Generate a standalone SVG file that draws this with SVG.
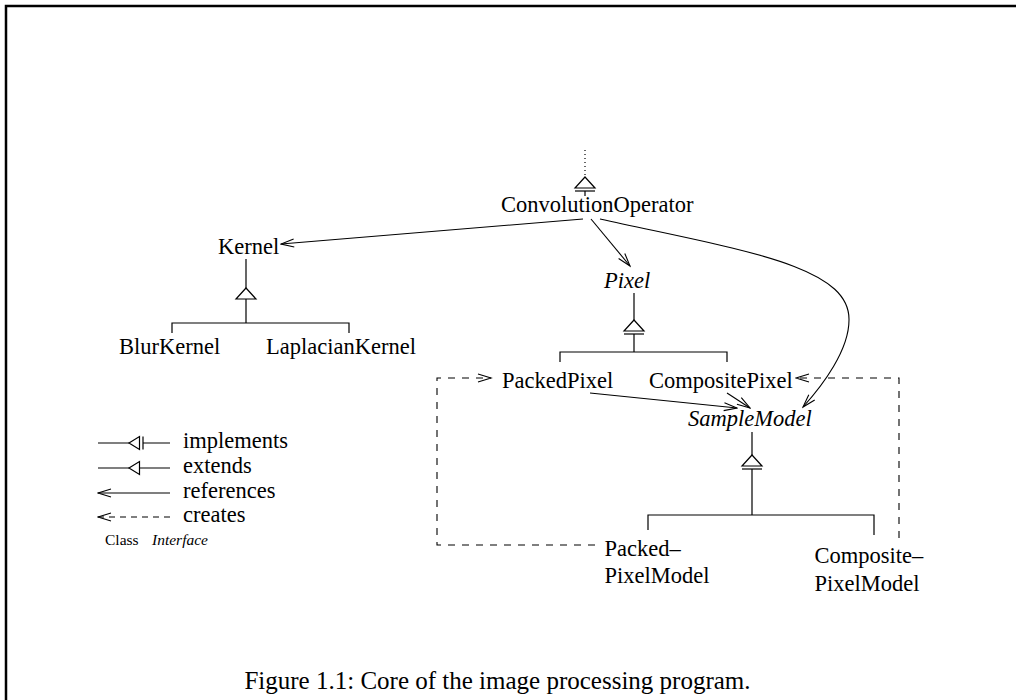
<svg xmlns="http://www.w3.org/2000/svg" width="1016" height="700" viewBox="0 0 1016 700">
<style>
text { font-family: "Liberation Serif", "Times New Roman", serif; font-size: 22.5px; fill: #000; }
.it { font-style: italic; }
.small { font-size: 15.5px; }
.cap { font-size: 25px; }
.ln { stroke: #000; stroke-width: 1.2; fill: none; }
.ref { stroke: #000; stroke-width: 1.1; fill: none; marker-end: url(#open); }
.cr { stroke: #000; stroke-width: 1.1; fill: none; stroke-dasharray: 7 7; marker-end: url(#open); }
.dot { stroke: #000; stroke-width: 1.2; stroke-dasharray: 1 3; }
.frame { stroke: #000; stroke-width: 2.5; fill: none; }
.tri { fill: #fff; stroke: #000; stroke-width: 1.2; }
</style>
<defs>
<marker id="open" markerUnits="userSpaceOnUse" markerWidth="16" markerHeight="12" viewBox="-1 -6 15 12" refX="13" refY="0" orient="auto">
<path d="M0,-4 L13,0 L0,4" fill="none" stroke="#000" stroke-width="1.1"/>
</marker>
<path id="tri" class="tri" d="M0,0 L10,11 L-10,11 Z"/>
<g id="impl"><use href="#tri"/><line x1="-10" y1="14" x2="10" y2="14" stroke="#000" stroke-width="1.2"/></g>
</defs>

<path class="frame" d="M6,700 V6 H1016"/>

<g id="connectors">
  <!-- ConvolutionOperator super (implements) -->
  <line class="dot" x1="585" y1="150" x2="585" y2="176"/>
  <use href="#impl" x="585" y="177"/>
  <line class="ln" x1="585" y1="191" x2="585" y2="196"/>
  <!-- Kernel extends tree -->
  <line class="ln" x1="246" y1="259" x2="246" y2="288"/>
  <use href="#tri" x="246" y="288"/>
  <path class="ln" d="M246,299 V323 M172,333 V323 H349 V333"/>
  <!-- Pixel implements tree -->
  <line class="ln" x1="634" y1="293" x2="634" y2="320"/>
  <use href="#impl" x="634" y="320"/>
  <path class="ln" d="M634,334 V352 M560,362 V352 H727 V362"/>
  <!-- SampleModel implements tree -->
  <line class="ln" x1="752" y1="432" x2="752" y2="455"/>
  <use href="#impl" x="752" y="455"/>
  <path class="ln" d="M752,469 V515 M648,530 V515 H874 V535"/>
  <!-- references -->
  <path class="ref" d="M583,219 L281,244"/>
  <path class="ref" d="M591,219 L630,266"/>
  <path class="ref" d="M600,219 C740,250 850,265 849,320 C849,350 823,385 803,407"/>
  <path class="ref" d="M590,393 L737,408"/>
  <path class="ref" d="M727,393 L750,408"/>
  <!-- creates -->
  <path class="cr" d="M595,545 H437 V378 H491"/>
  <path class="cr" d="M899,538 V378 H796"/>
</g>

<g id="n-convop"><text x="501" y="212">ConvolutionOperator</text></g>
<g id="n-kernel"><text x="218" y="254">Kernel</text></g>
<g id="n-blurkernel"><text x="119" y="354">BlurKernel</text></g>
<g id="n-laplaciankernel"><text x="266" y="354">LaplacianKernel</text></g>
<g id="n-pixel"><text class="it" x="604" y="288">Pixel</text></g>
<g id="n-packedpixel"><text x="502" y="388">PackedPixel</text></g>
<g id="n-compositepixel"><text x="649" y="388">CompositePixel</text></g>
<g id="n-samplemodel"><text class="it" x="688" y="426">SampleModel</text></g>
<g id="n-packedpixelmodel"><text x="604.5" y="556">Packed–</text><text x="604.5" y="583">PixelModel</text></g>
<g id="n-compositepixelmodel"><text x="814.5" y="563">Composite–</text><text x="814.5" y="591">PixelModel</text></g>

<g id="legend">
  <path class="ln" d="M98,443 H129 M143,443 H170 M143,436.5 V449.5"/>
  <polygon class="tri" points="129,443 139.5,436.5 139.5,449.5"/>
  <path class="ln" d="M98,468 H129 M139.5,468 H170"/>
  <polygon class="tri" points="129,468 139.5,461.5 139.5,474.5"/>
  <path class="ref" d="M170,493 H98"/>
  <path class="ref" style="stroke-dasharray:6 5" d="M170,517 H98"/>
  <text x="183" y="448">implements</text>
  <text x="183" y="473">extends</text>
  <text x="183" y="498">references</text>
  <text x="183" y="522">creates</text>
  <text class="small" x="105" y="545">Class</text>
  <text class="small it" x="152" y="545">Interface</text>
</g>

<text class="cap" x="497.5" y="689" text-anchor="middle">Figure 1.1: Core of the image processing program.</text>
</svg>
